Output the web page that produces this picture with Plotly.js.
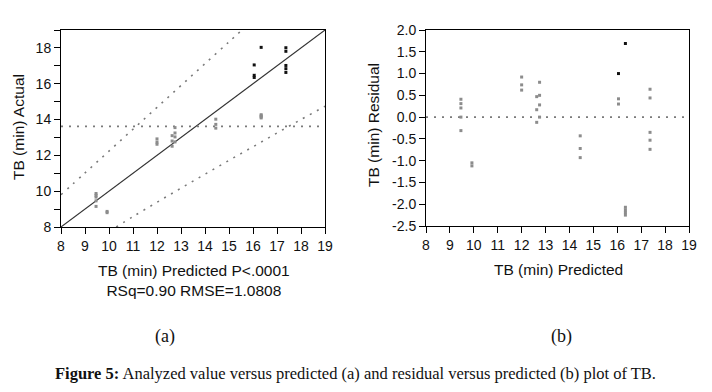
<!DOCTYPE html>
<html>
<head>
<meta charset="utf-8">
<script src="https://cdn.plot.ly/plotly-3.0.1.min.js"></script>
<style>
  html, body { margin: 0; padding: 0; background: #fff; }
  #chart { width: 712px; height: 392px; }
</style>
</head>
<body>
<div id="chart"></div>
<script>
// ---- data ----
// predicted TB (min) for each observation
const predicted = [9.46, 9.46, 9.46, 9.46, 9.46,
                   9.92, 9.92,
                   12.0, 12.0, 12.0,
                   12.63, 12.63, 12.63,
                   12.75, 12.75, 12.75, 12.75,
                   14.45, 14.45, 14.45,
                   16.05, 16.05, 16.05,
                   16.34, 16.34, 16.34, 16.34, 16.34,
                   17.37, 17.37, 17.37, 17.37, 17.37];
// actual TB (min)
const actual = [9.87, 9.77, 9.67, 9.46, 9.15,
                8.87, 8.80,
                12.92, 12.74, 12.62,
                13.10, 12.80, 12.51,
                13.55, 13.25, 13.03, 12.75,
                14.02, 13.73, 13.52,
                17.05, 16.47, 16.35,
                18.03, 14.27, 14.21, 14.15, 14.09,
                18.01, 17.81, 17.02, 16.84, 16.63];
// residual TB (min)
const residual = [0.41, 0.31, 0.21, 0.00, -0.31,
                  -1.05, -1.12,
                  0.92, 0.74, 0.62,
                  0.47, 0.17, -0.12,
                  0.80, 0.50, 0.28, 0.00,
                  -0.43, -0.72, -0.93,
                  1.00, 0.42, 0.30,
                  1.69, -2.07, -2.13, -2.19, -2.25,
                  0.64, 0.44, -0.35, -0.53, -0.74];
// marker group in plot (a) and (b): 1 = dark marker, 0 = grey marker
const groupA = [0,0,0,0,0, 0,0, 0,0,0, 0,0,0, 0,0,0,0, 0,0,0, 1,1,1, 1,0,0,0,0, 1,1,1,1,1];
const groupB = [0,0,0,0,0, 0,0, 0,0,0, 0,0,0, 0,0,0,0, 0,0,0, 1,0,0, 1,0,0,0,0, 0,0,0,0,0];

// fit line and confidence curves of plot (a)
const fitX = [8, 19];
const fitY = [8, 19];
const upperX = [8, 9, 10, 11, 12, 13, 14, 15, 15.54];
const upperY = [9.8, 11.02, 12.24, 13.46, 14.68, 15.9, 17.12, 18.34, 19.0];
const lowerX = [10.3, 11, 12, 13, 14, 15, 16, 17, 18, 19];
const lowerY = [8.0, 8.58, 9.38, 10.17, 10.95, 11.72, 12.48, 13.25, 14.0, 14.74];
const meanActual = 13.62;
const residZero = 0;

// ticks
const xTicks = [8, 9, 10, 11, 12, 13, 14, 15, 16, 17, 18, 19];
const actualTicks = [8, 10, 12, 14, 16, 18];
const residTicks = [-2.5, -2.0, -1.5, -1.0, -0.5, 0.0, 0.5, 1.0, 1.5, 2.0];
const residTickLabels = ['-2.5', '-2.0', '-1.5', '-1.0', '-0.5', '0.0', '0.5', '1.0', '1.5', '2.0'];

// ---- drawing ----
(function () {
const W = 712, H = 392;
const px = v => v / W;
const py = v => 1 - v / H;

const GREY = '#8c8c8c';
const DARK = '#111111';
const DOT = '#7a7a7a';
const sans = 'Liberation Sans, Arial, sans-serif';
const serif = 'Liberation Serif, Times New Roman, serif';

function pick(xs, ys, grp, g) {
  const ox = [], oy = [];
  for (let i = 0; i < xs.length; i++) if (grp[i] === g) { ox.push(xs[i]); oy.push(ys[i]); }
  return [ox, oy];
}

const traces = [];
const dotLine = {color: DOT, width: 1.6, dash: '2px,6px'};

// plot (a)
traces.push({x: fitX, y: fitY, mode: 'lines', line: {color: '#333', width: 1.1}, xaxis: 'x', yaxis: 'y', hoverinfo: 'skip'});
traces.push({x: upperX, y: upperY, mode: 'lines', line: Object.assign({shape: 'spline'}, dotLine), xaxis: 'x', yaxis: 'y'});
traces.push({x: lowerX, y: lowerY, mode: 'lines', line: Object.assign({shape: 'spline'}, dotLine), xaxis: 'x', yaxis: 'y'});
traces.push({x: [xTicks[0], xTicks[xTicks.length - 1]], y: [meanActual, meanActual], mode: 'lines', line: dotLine, xaxis: 'x', yaxis: 'y'});
[[0, GREY], [1, DARK]].forEach(([g, c]) => {
  const [ox, oy] = pick(predicted, actual, groupA, g);
  traces.push({x: ox, y: oy, mode: 'markers', marker: {symbol: 'square', size: 3, color: c}, xaxis: 'x', yaxis: 'y'});
});

// plot (b)
traces.push({x: [xTicks[0], xTicks[xTicks.length - 1]], y: [residZero, residZero], mode: 'lines', line: dotLine, xaxis: 'x2', yaxis: 'y2'});
[[0, GREY], [1, DARK]].forEach(([g, c]) => {
  const [ox, oy] = pick(predicted, residual, groupB, g);
  traces.push({x: ox, y: oy, mode: 'markers', marker: {symbol: 'square', size: 3, color: c}, xaxis: 'x2', yaxis: 'y2'});
});

const axBase = {
  showline: true, linecolor: '#000', linewidth: 1, mirror: true,
  showgrid: false, zeroline: false,
  ticks: 'outside', ticklen: 6, tickwidth: 1, tickcolor: '#000',
  tickfont: {family: sans, size: 14, color: '#111'},
  fixedrange: true
};

const topPx = 30, bottomPx = 227;
const layout = {
  width: W, height: H,
  margin: {l: 0, r: 0, t: 0, b: 0},
  paper_bgcolor: '#fff', plot_bgcolor: '#fff',
  showlegend: false,
  xaxis: Object.assign({}, axBase, {domain: [px(61), px(325)], range: [8, 19], tickvals: xTicks, anchor: 'y'}),
  yaxis: Object.assign({}, axBase, {domain: [py(bottomPx), py(topPx)], range: [8, 19], tickvals: actualTicks, anchor: 'x',
    minor: {dtick: 1, tick0: 8, ticks: 'outside', ticklen: 6, tickcolor: '#000', showgrid: false}}),
  xaxis2: Object.assign({}, axBase, {domain: [px(426), px(689)], range: [8, 19], tickvals: xTicks, anchor: 'y2'}),
  yaxis2: Object.assign({}, axBase, {domain: [py(bottomPx - 1), py(topPx)], range: [-2.5, 2.0], tickvals: residTicks, ticktext: residTickLabels, anchor: 'x2'}),
  annotations: [
    {text: 'TB (min) Actual', textangle: -90, x: px(18), y: py(127), xref: 'paper', yref: 'paper', showarrow: false,
     xanchor: 'center', yanchor: 'middle', font: {family: sans, size: 15.5, color: '#111'}},
    {text: 'TB (min) Predicted P&lt;.0001<br>RSq=0.90 RMSE=1.0808', x: px(194), y: py(280), xref: 'paper', yref: 'paper', showarrow: false,
     xanchor: 'center', yanchor: 'middle', font: {family: sans, size: 15.5, color: '#111'}},
    {text: 'TB (min) Residual', textangle: -90, x: px(373), y: py(125), xref: 'paper', yref: 'paper', showarrow: false,
     xanchor: 'center', yanchor: 'middle', font: {family: sans, size: 15.5, color: '#111'}},
    {text: 'TB (min) Predicted', x: px(558), y: py(269), xref: 'paper', yref: 'paper', showarrow: false,
     xanchor: 'center', yanchor: 'middle', font: {family: sans, size: 15.5, color: '#111'}},
    {text: '(a)', x: px(165), y: py(336), xref: 'paper', yref: 'paper', showarrow: false,
     xanchor: 'center', yanchor: 'middle', font: {family: serif, size: 18, color: '#111'}},
    {text: '(b)', x: px(561), y: py(336), xref: 'paper', yref: 'paper', showarrow: false,
     xanchor: 'center', yanchor: 'middle', font: {family: serif, size: 18, color: '#111'}},
    {text: '<b>Figure 5:</b> Analyzed value versus predicted (a) and residual versus predicted (b) plot of TB.', x: px(355), y: py(373),
     xref: 'paper', yref: 'paper', showarrow: false, xanchor: 'center', yanchor: 'middle', font: {family: serif, size: 16.5, color: '#111'}}
  ]
};

Plotly.newPlot('chart', traces, layout, {displayModeBar: false, staticPlot: true});
})();
</script>
</body>
</html>
